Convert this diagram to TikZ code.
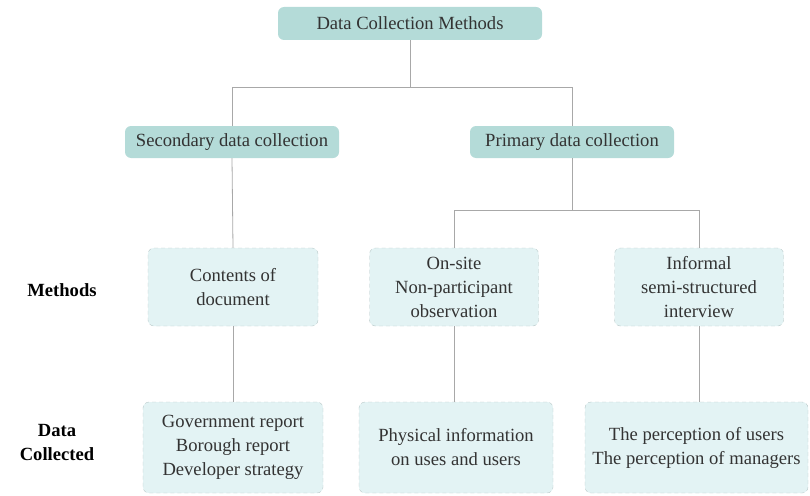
\documentclass[tikz,border=0pt]{standalone}
\usepackage{fontspec}
\setmainfont{Liberation Serif}[Ligatures=TeX]
\definecolor{headfill}{HTML}{B4DBD8}
\definecolor{boxfill}{HTML}{E3F3F4}
\definecolor{boxline}{HTML}{B8C8C8}
\definecolor{conn}{HTML}{A8A8A8}
\definecolor{txt}{HTML}{333333}
\begin{document}
\begin{tikzpicture}[x=1pt,y=-1pt,
  headbox/.style={fill=headfill,draw=none,rounded corners=6pt,inner sep=0pt,text=txt,font=\rmfamily\fontsize{18.6}{22}\selectfont},
  dashbox/.style={fill=boxfill,draw=boxline,dashed,dash pattern=on 4pt off 3pt,rounded corners=6pt,inner sep=0pt,text=txt,align=center,font=\rmfamily\fontsize{18.6}{24}\selectfont},
  sidelabel/.style={text=black,align=center,font=\rmfamily\bfseries\fontsize{18.6}{24}\selectfont},
  link/.style={draw=conn,line width=0.8pt}]
\useasboundingbox (0,0) rectangle (810,495);
% heads
\node[headbox,minimum width=264pt,minimum height=33pt] (top) at (410,23.5) {Data Collection Methods};
\node[headbox,minimum width=214pt,minimum height=32pt] (sec) at (232,142) {Secondary data collection};
\node[headbox,minimum width=204pt,minimum height=32pt] (pri) at (572,142) {Primary data collection};
% methods
\node[dashbox,minimum width=170pt,minimum height=78pt] (cod) at (233,287) {Contents of\\document};
\node[dashbox,minimum width=169pt,minimum height=78pt] (ons) at (454,287) {On-site\\Non-participant\\observation};
\node[dashbox,minimum width=169pt,minimum height=78pt] (inf) at (699,287) {Informal\\semi-structured\\interview};
% data collected
\node[dashbox,minimum width=180pt,minimum height=91pt] (gov) at (233,447.5) {Government report\\Borough report\\Developer strategy};
\node[dashbox,minimum width=194pt,minimum height=91pt] (phy) at (456,447.5) {Physical information\\on uses and users};
\node[dashbox,minimum width=223pt,minimum height=91pt] (per) at (696.5,447.5) {The perception of users\\The perception of managers};
% side labels
\node[sidelabel] (lm) at (62,290) {Methods};
\node[sidelabel] (ld) at (57,442) {Data\\Collected};
% connectors
\coordinate (j1) at (410,87);
\coordinate (j2) at (572,210);
\draw[link] (top.south) -- (j1) -| (sec.north);
\draw[link] (j1) -| (pri.north);
\draw[link] (sec.south) -- (cod.north);
\draw[link] (pri.south) -- (j2) -| (ons.north);
\draw[link] (j2) -| (inf.north);
\draw[link] (cod.south) -- (gov.north);
\draw[link] (ons.south) -- (ons.south |- phy.north);
\draw[link] (inf.south) -- (inf.south |- per.north);
\end{tikzpicture}
\end{document}
